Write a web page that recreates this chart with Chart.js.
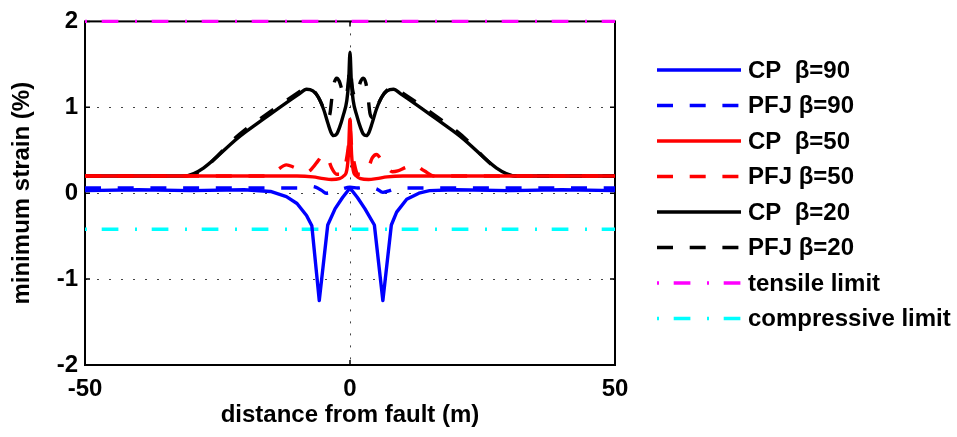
<!DOCTYPE html>
<html>
<head>
<meta charset="utf-8">
<script src="https://cdn.jsdelivr.net/npm/chart.js@4.4.0/dist/chart.umd.min.js"></script>
<style>
html,body{margin:0;padding:0;background:#fff;}
#wrap{width:957px;height:437px;position:relative;}
</style>
</head>
<body>
<div id="wrap"><canvas id="c" width="957" height="437"></canvas></div>
<script>
// ---------- data ----------
const xTicks = [-50, 0, 50];
const yTicks = [-2, -1, 0, 1, 2];
const seriesLabels = ['CP  β=90', 'PFJ β=90', 'CP  β=50', 'PFJ β=50', 'CP  β=20', 'PFJ β=20', 'tensile limit', 'compressive limit'];

const cp90X = [-50, -40, -30, -20, -15, -12, -10, -8.2, -7.2, -5.8, -4.2, -2.8, -1.4, 0, 1.4, 2.8, 4.6, 6.2, 7.8, 8.8, 10.7, 13, 15, 20, 30, 40, 50];
const cp90Y = [0.03, 0.04, 0.03, 0.04, 0.02, -0.04, -0.12, -0.26, -0.38, -1.25, -0.37, -0.18, -0.05, 0.06, -0.05, -0.18, -0.37, -1.25, -0.37, -0.22, -0.07, 0.0, 0.03, 0.04, 0.03, 0.04, 0.03];

const pfj90X = [-50, -10, -7.5, -6.5, -5.3, -4.5, -3, -1.5, 0, 1.5, 3, 3.8, 5, 6.2, 7.5, 9, 50];
const pfj90Y = [0.06, 0.06, 0.08, 0.07, 0.03, 0.0, 0.02, 0.05, 0.07, 0.06, 0.07, 0.07, 0.05, 0.01, 0.03, 0.06, 0.06];

const cp50X = [-50, -20, -10, -7, -5, -3.5, -2, -1.2, -0.6, -0.3, 0, 0.3, 0.6, 1.2, 2, 3.5, 5, 7, 10, 20, 50];
const cp50Y = [0.2, 0.2, 0.2, 0.19, 0.17, 0.16, 0.17, 0.2, 0.27, 0.45, 0.86, 0.45, 0.27, 0.2, 0.17, 0.16, 0.17, 0.19, 0.2, 0.2, 0.2];

const pfj50X = [-50, -16, -14, -12, -10.5, -9, -8, -7, -6, -5, -4.2, -3.5, -2.5, -1.5, -0.8, -0.3, 0, 0.3, 0.8, 1.5, 2.5, 3.5, 4.2, 5, 6, 7, 8, 9, 10.5, 12, 14, 16, 50];
const pfj50Y = [0.2, 0.2, 0.26, 0.33, 0.3, 0.26, 0.25, 0.3, 0.38, 0.45, 0.41, 0.3, 0.22, 0.22, 0.35, 0.55, 0.75, 0.55, 0.35, 0.22, 0.22, 0.3, 0.41, 0.45, 0.38, 0.3, 0.25, 0.26, 0.3, 0.33, 0.26, 0.2, 0.2];

const cp20X = [-50, -31.5, -20, -9.5, -8.2, -7, -6, -5, -4.2, -3.6, -3.1, -2.5, -2, -1.3, -0.6, -0.25, 0, 0.25, 0.6, 1.3, 2, 2.5, 3.1, 3.6, 4.2, 5, 6, 7, 8.2, 9.5, 20, 31.5, 50];
const cp20Y = [0.2, 0.2, 0.7, 1.16, 1.21, 1.19, 1.12, 0.98, 0.82, 0.71, 0.67, 0.69, 0.76, 0.9, 1.08, 1.3, 1.64, 1.3, 1.08, 0.9, 0.76, 0.69, 0.67, 0.71, 0.82, 0.98, 1.12, 1.19, 1.21, 1.16, 0.7, 0.2, 0.2];

const pfj20X = [-50, -31, -20, -9.6, -8.3, -7, -6, -5, -4.3, -3.8, -3.4, -3, -2.5, -2, -1.5, -1, -0.5, 0, 0.5, 1, 1.5, 2, 2.5, 3, 3.4, 3.8, 4.3, 5, 6, 7, 8.3, 9.6, 20, 31, 50];
const pfj20Y = [0.2, 0.2, 0.73, 1.18, 1.23, 1.2, 1.12, 0.99, 0.88, 0.92, 1.12, 1.28, 1.34, 1.3, 1.2, 1.12, 1.2, 1.45, 1.2, 1.12, 1.2, 1.3, 1.34, 1.28, 1.12, 0.92, 0.88, 0.99, 1.12, 1.2, 1.23, 1.18, 0.73, 0.2, 0.2];

const limitX = [-50, 50];
const tensileY = [2, 2];
const compressiveY = [-0.42, -0.42];

// ---------- helpers ----------
const FONT = "'Liberation Sans', Arial, Helvetica, sans-serif";
function pts(xs, ys) { return xs.map((x, i) => ({ x: x, y: ys[i] })); }
const DASH = [16, 16.7];
const DASHDOT = [2, 14.7, 16.7, 16.6];
function mk(i, xs, ys, color, dash, smooth) {
  return {
    label: seriesLabels[i],
    data: pts(xs, ys),
    borderColor: color,
    backgroundColor: color,
    borderWidth: 3.4,
    borderDash: dash,
    borderCapStyle: 'butt',
    borderJoinStyle: 'round',
    pointRadius: 0,
    pointHoverRadius: 0,
    fill: false,
    clip: 6,
    tension: 0,
    cubicInterpolationMode: smooth ? 'monotone' : 'default'
  };
}

const datasets = [
  mk(0, cp90X, cp90Y, '#0000ff', [], false),
  mk(1, pfj90X, pfj90Y, '#0000ff', DASH, true),
  mk(2, cp50X, cp50Y, '#ff0000', [], true),
  mk(3, pfj50X, pfj50Y, '#ff0000', DASH, true),
  mk(4, cp20X, cp20Y, '#000000', [], true),
  mk(5, pfj20X, pfj20Y, '#000000', DASH, true),
  mk(6, limitX, tensileY, '#ff00ff', DASHDOT, false),
  mk(7, limitX, compressiveY, '#00ffff', DASHDOT, false)
];

const framePlugin = {
  id: 'frame',
  beforeDatasetsDraw(chart) {
    const { ctx, chartArea: a, scales } = chart;
    ctx.save();
    ctx.strokeStyle = '#000';
    ctx.lineWidth = 2;
    ctx.setLineDash([]);
    ctx.strokeRect(a.left, a.top, a.right - a.left, a.bottom - a.top);
    ctx.lineWidth = 1.5;
    const tl = 5;
    yTicks.forEach(v => {
      const y = scales.y.getPixelForValue(v);
      ctx.beginPath();
      ctx.moveTo(a.left, y); ctx.lineTo(a.left + tl, y);
      ctx.moveTo(a.right, y); ctx.lineTo(a.right - tl, y);
      ctx.stroke();
    });
    xTicks.forEach(v => {
      const x = scales.x.getPixelForValue(v);
      ctx.beginPath();
      ctx.moveTo(x, a.bottom); ctx.lineTo(x, a.bottom - tl);
      ctx.moveTo(x, a.top); ctx.lineTo(x, a.top + tl);
      ctx.stroke();
    });
    ctx.restore();
  },
  afterDraw(chart) {
    const { ctx } = chart;
    const x0 = 657, x1 = 741, tx = 748, yStart = 70, step = 35.5;
    ctx.save();
    chart.data.datasets.forEach((ds, i) => {
      const y = yStart + i * step;
      ctx.strokeStyle = ds.borderColor;
      ctx.lineWidth = 3.4;
      ctx.lineCap = 'butt';
      ctx.setLineDash(ds.borderDash || []);
      ctx.lineDashOffset = 0;
      ctx.beginPath();
      ctx.moveTo(x0, y); ctx.lineTo(x1, y);
      ctx.stroke();
      ctx.setLineDash([]);
      ctx.fillStyle = '#000';
      ctx.font = 'bold 24px ' + FONT;
      ctx.textAlign = 'left';
      ctx.textBaseline = 'middle';
      ctx.fillText(ds.label, tx, y + 1);
    });
    ctx.restore();
  }
};

const tickFont = { family: FONT, size: 24, weight: 'bold' };

new Chart(document.getElementById('c').getContext('2d'), {
  type: 'line',
  data: { datasets: datasets },
  plugins: [framePlugin],
  options: {
    responsive: false,
    animation: false,
    devicePixelRatio: 1,
    layout: { padding: { left: 0, right: 342, top: 16, bottom: 0 } },
    plugins: { legend: { display: false }, tooltip: { enabled: false } },
    scales: {
      x: {
        type: 'linear',
        min: -50, max: 50,
        afterBuildTicks: s => { s.ticks = xTicks.map(v => ({ value: v })); },
        afterFit: s => { s.height = 72; },
        ticks: { color: '#000', font: tickFont, padding: 10, maxRotation: 0, autoSkip: false },
        grid: {
          drawTicks: false,
          lineWidth: 1,
          color: c => (c.tick && c.tick.value === 0) ? '#444' : 'rgba(0,0,0,0)'
        },
        border: { display: false, dash: [2, 10] },
        title: { display: true, text: 'distance from fault (m)', color: '#000', font: { family: FONT, size: 24, weight: 'bold' }, padding: { top: 0, bottom: 7 } }
      },
      y: {
        type: 'linear',
        min: -2, max: 2,
        afterBuildTicks: s => { s.ticks = yTicks.map(v => ({ value: v })); },
        afterFit: s => { s.width = 85; },
        ticks: { color: '#000', font: tickFont, padding: 7 },
        grid: {
          drawTicks: false,
          lineWidth: 1,
          color: c => (c.tick && (Math.abs(c.tick.value) === 1 || c.tick.value === 0)) ? '#444' : 'rgba(0,0,0,0)'
        },
        border: { display: false, dash: [2, 10] },
        title: { display: true, text: 'minimum strain (%)', color: '#000', font: { family: FONT, size: 24, weight: 'bold' }, padding: { top: 8, bottom: 0 } }
      }
    }
  }
});
</script>
</body>
</html>
